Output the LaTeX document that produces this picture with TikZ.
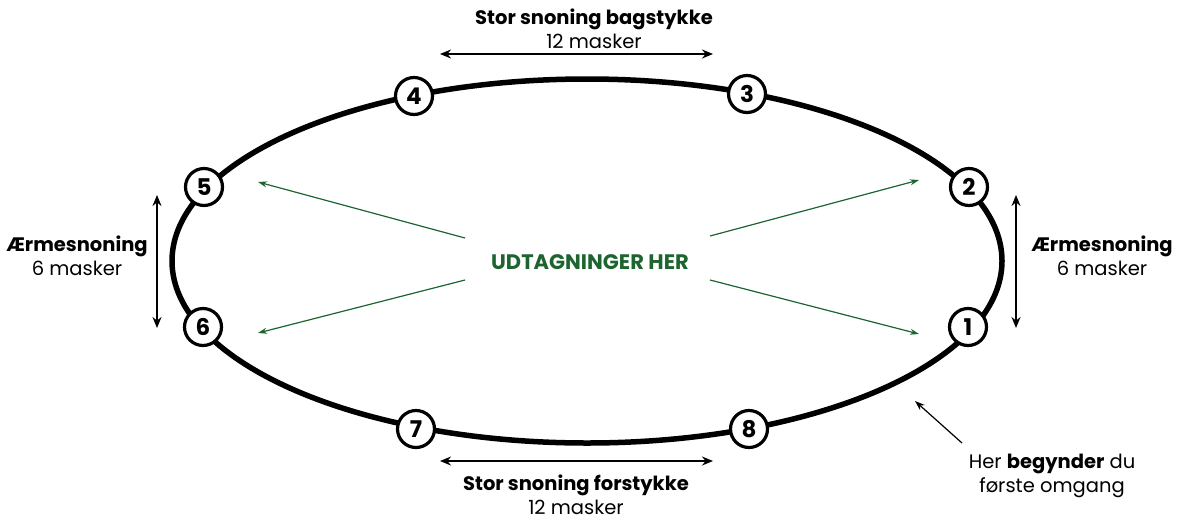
\documentclass[tikz,border=0pt]{standalone}
\usepackage{fontspec}
\setmainfont{Poppins}
\usetikzlibrary{arrows.meta}
\definecolor{grn}{HTML}{1E6430}
\tikzset{
  num/.style={circle, draw=black, line width=3.2pt, fill=white, minimum size=37pt, inner sep=0pt, font=\fontsize{23}{23}\selectfont\bfseries},
  lbl/.style={align=center, font=\fontsize{19.5}{24}\selectfont},
  dbl/.style={{Stealth[length=11pt,width=9pt]}-{Stealth[length=11pt,width=9pt]}, line width=1.8pt},
  garr/.style={-{Stealth[length=9pt,width=6pt]}, draw=grn, line width=1.2pt},
}
\begin{document}
\begin{tikzpicture}[x=1pt,y=-1pt]
\useasboundingbox (0,0) rectangle (1182,520);
\draw[line width=5.5pt] (587,261) ellipse [x radius=415, y radius=182];
\node[num] (n4) at (414,96) {4};
\node[num] (n3) at (747,94) {3};
\node[num] (n5) at (204,187) {5};
\node[num] (n2) at (969,187) {2};
\node[num] (n6) at (203,327) {6};
\node[num] (n1) at (968,327) {1};
\node[num] (n7) at (416,429) {7};
\node[num] (n8) at (749,429) {8};
% labels
\node[lbl] (top) at (594,29) {\textbf{Stor snoning bagstykke}\\12 masker};
\node[lbl] (bot) at (576,495) {\textbf{Stor snoning forstykke}\\12 masker};
\node[lbl] (left) at (77,256) {\textbf{Ærmesnoning}\\6 masker};
\node[lbl] (right) at (1102,256) {\textbf{Ærmesnoning}\\6 masker};
\node[lbl] (start) at (1052,476) {Her \textbf{begynder} du\\første omgang};
\node[font=\fontsize{21}{21}\selectfont\bfseries, text=grn] (mid) at (590,262) {UDTAGNINGER HER};
% double arrows
\coordinate (ta) at (440,54); \coordinate (tb) at (713,54);
\coordinate (ba) at (440,461); \coordinate (bb) at (713,461);
\coordinate (la) at (157,195); \coordinate (lb) at (157,328);
\coordinate (ra) at (1016,195); \coordinate (rb) at (1016,328);
\draw[dbl] (ta) -- (tb);
\draw[dbl] (ba) -- (bb);
\draw[dbl] (la) -- (lb);
\draw[dbl] (ra) -- (rb);
% green arrows
\coordinate (g1) at (465,238); \coordinate (g1e) at (258,182);
\coordinate (g2) at (465,280); \coordinate (g2e) at (258,333);
\coordinate (g3) at (710,236); \coordinate (g3e) at (919,180);
\coordinate (g4) at (710,280); \coordinate (g4e) at (919,334);
\draw[garr] (g1) -- (g1e);
\draw[garr] (g2) -- (g2e);
\draw[garr] (g3) -- (g3e);
\draw[garr] (g4) -- (g4e);
% start arrow
\coordinate (sa) at (962,443); \coordinate (sb) at (915,401);
\draw[-{Stealth[length=10pt,width=7pt]}, line width=1.2pt] (sa) -- (sb);
\end{tikzpicture}
\end{document}
